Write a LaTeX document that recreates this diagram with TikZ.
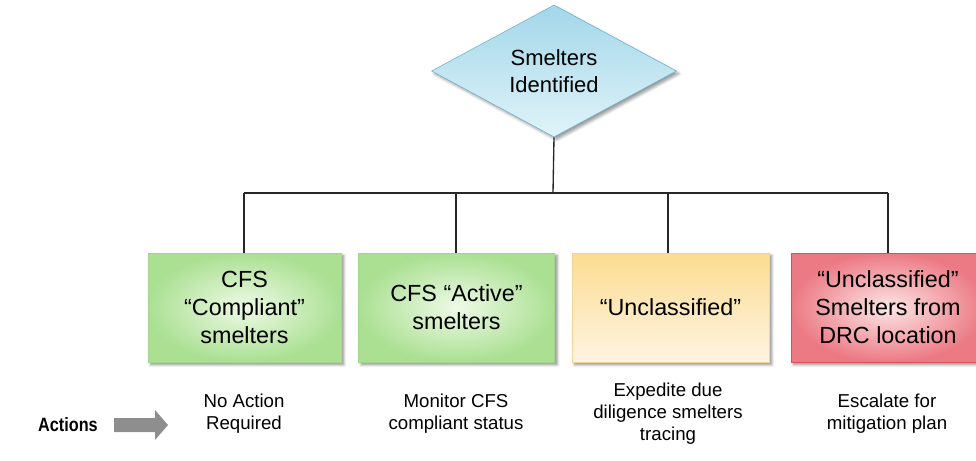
\documentclass[tikz,border=0pt]{standalone}
\usepackage{fontspec}
\setmainfont{Liberation Sans}
\newfontfamily\narrowfont[FakeStretch=0.84]{Liberation Sans}
\usetikzlibrary{shapes.geometric,shadows.blur}
\definecolor{grnout}{HTML}{ABE093}
\definecolor{grnin}{HTML}{EEFAE6}
\definecolor{grnbd}{HTML}{A3D68C}
\definecolor{yeltop}{HTML}{FCDC92}
\definecolor{yelbot}{HTML}{FEF4E2}
\definecolor{yelbd}{HTML}{F2D39A}
\definecolor{redout}{HTML}{EC7A84}
\definecolor{redin}{HTML}{FCE6E6}
\definecolor{redbd}{HTML}{D8505C}
\definecolor{bluetop}{HTML}{A3D7E9}
\definecolor{bluebot}{HTML}{E0F3F9}
\definecolor{bluebd}{HTML}{6AAFCB}
\definecolor{arrgray}{HTML}{8E8E8E}
\begin{document}
\begin{tikzpicture}[x=0.75pt,y=-0.75pt,
  boxtxt/.style={font=\fontsize{17.5}{21}\selectfont, align=center, text=black},
  catbox/.style={boxtxt, rectangle, inner sep=0pt, minimum height=81.75pt,
    blur shadow={shadow xshift=2pt, shadow yshift=-2pt, shadow blur steps=4, shadow opacity=45}},
  greenbox/.style={catbox, draw=grnbd, inner color=grnin, outer color=grnout},
  yellowbox/.style={catbox, draw=yelbd, top color=yeltop, bottom color=yelbot},
  redbox/.style={catbox, draw=redbd, inner color=redin, outer color=redout},
  actxt/.style={font=\fontsize{14}{16.5}\selectfont, align=center, text=black},
  link/.style={draw=black!85, line width=1pt}
]
\useasboundingbox (0,0) rectangle (976,461);

% top decision
\node[diamond, boxtxt, font=\fontsize{16.5}{20}\selectfont, draw=bluebd, top color=bluetop, bottom color=bluebot,
  minimum width=183.75pt, minimum height=91.5pt, inner sep=0pt,
  blur shadow={shadow xshift=2pt, shadow yshift=-2pt, shadow blur steps=4, shadow opacity=40}]
  (top) at (554,71) {Smelters\\Identified};

% category boxes
\node[greenbox, minimum width=144.75pt] (b1) at (244.5,307.5) {CFS\\``Compliant''\\smelters};
\node[greenbox, minimum width=147pt] (b2) at (456.5,307.5) {CFS ``Active''\\smelters};
\node[yellowbox, minimum width=147.75pt] (b3) at (670.5,307.5) {``Unclassified''};
\node[redbox, minimum width=145.5pt] (b4) at (888,307.5) {``Unclassified''\\Smelters from\\DRC location};

% connector tree
\coordinate (hub) at (553,193);
\coordinate (h1) at (244,193);
\coordinate (h2) at (456,193);
\coordinate (h3) at (668,193);
\coordinate (h4) at (888,193);
\draw[link] (top.south) -- (hub);
\draw[link] (h1) -- (h4);
\draw[link] (h1) -- (h1 |- b1.north);
\draw[link] (h2) -- (h2 |- b2.north);
\draw[link] (h3) -- (h3 |- b3.north);
\draw[link] (h4) -- (h4 |- b4.north);

% actions row
\node[font=\narrowfont\bfseries\fontsize{14.5}{17}\selectfont] (act) at (68,425) {Actions};
\fill[arrgray] (114,418) -- (155,418) -- (155,410) -- (168,425) -- (155,440) -- (155,432) -- (114,432) -- cycle;
\node[actxt] (a1) at (244,414) {No Action\\Required};
\node[actxt] (a2) at (456,414) {Monitor CFS\\compliant status};
\node[actxt] (a3) at (668,414) {Expedite due\\diligence smelters\\tracing};
\node[actxt] (a4) at (887,414) {Escalate for\\mitigation plan};
\end{tikzpicture}
\end{document}
